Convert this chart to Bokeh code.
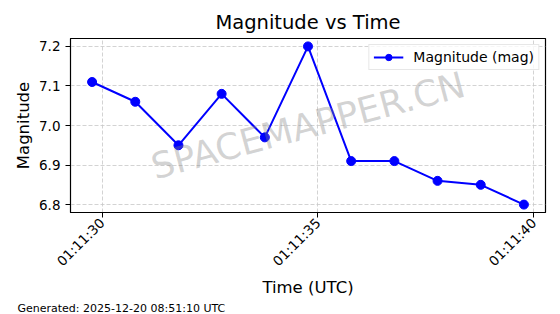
import math
import pandas as pd
from bokeh.plotting import figure
from bokeh.models import (ColumnDataSource, DatetimeTickFormatter, FixedTicker,
                          Range1d, Label, Legend, PrintfTickFormatter, Title)
from bokeh.embed import file_html
from bokeh.resources import INLINE

# ---- data ----
times = ["2025-12-20 01:11:29.770", "2025-12-20 01:11:30.770", "2025-12-20 01:11:31.770",
         "2025-12-20 01:11:32.770", "2025-12-20 01:11:33.770", "2025-12-20 01:11:34.770",
         "2025-12-20 01:11:35.770", "2025-12-20 01:11:36.770", "2025-12-20 01:11:37.770",
         "2025-12-20 01:11:38.770", "2025-12-20 01:11:39.770"]
magnitudes = [7.11, 7.06, 6.95, 7.08, 6.97, 7.20, 6.91, 6.91, 6.86, 6.85, 6.80]
x_tick_times = ["2025-12-20 01:11:30", "2025-12-20 01:11:35", "2025-12-20 01:11:40"]
y_ticks = [6.8, 6.9, 7.0, 7.1, 7.2]
title_text = "Magnitude vs Time"
x_label = "Time (UTC)"
y_label = "Magnitude"
legend_text = "Magnitude (mag)"
footer_text = "Generated: 2025-12-20 08:51:10 UTC"
watermark_text = "SPACEMAPPER.CN"

FONT = "DejaVu Sans"

def to_ms(s):
    return (pd.Timestamp(s) - pd.Timestamp("1970-01-01")) / pd.Timedelta(milliseconds=1)

xs = [to_ms(t) for t in times]
src = ColumnDataSource(dict(t=xs, m=magnitudes))

xspan = max(xs) - min(xs)
yspan = max(magnitudes) - min(magnitudes)
x_range = Range1d(min(xs) - 0.05 * xspan, max(xs) + 0.05 * xspan)
y_range = Range1d(min(magnitudes) - 0.05 * yspan, max(magnitudes) + 0.05 * yspan)

p = figure(width=560, height=314, output_backend="svg", toolbar_location=None,
           x_range=x_range, y_range=y_range,
           min_border_left=70, min_border_right=15, min_border_top=38, min_border_bottom=102)
p.background_fill_color = "white"
p.border_fill_color = "white"
p.outline_line_color = "black"
p.outline_line_width = 1.2

p.title.text = title_text
p.title.align = "center"
p.title.text_font = FONT
p.title.text_font_size = "19.5px"
p.title.text_font_style = "normal"
p.title.text_color = "black"

ln = p.line("t", "m", source=src, color="#0000ff", line_width=2)
sc = p.scatter("t", "m", source=src, size=9, color="#0000ff", marker="circle")

p.xaxis.ticker = FixedTicker(ticks=[to_ms(t) for t in x_tick_times])
fmt = "%H:%M:%S"
p.xaxis.formatter = DatetimeTickFormatter(milliseconds=fmt, seconds=fmt, minsec=fmt,
                                          minutes=fmt, hourmin=fmt, hours=fmt, days=fmt,
                                          context=None)
p.xaxis.major_label_orientation = math.pi / 4
p.yaxis.ticker = FixedTicker(ticks=y_ticks)
p.yaxis.formatter = PrintfTickFormatter(format="%.1f")

for ax in (p.xaxis, p.yaxis):
    ax.major_label_text_font = FONT
    ax.major_label_text_font_size = "13.5px"
    ax.major_label_text_color = "black"
    ax.axis_label_text_font = FONT
    ax.axis_label_text_font_size = "16.5px"
    ax.axis_label_text_font_style = "normal"
    ax.axis_label_text_color = "black"
    ax.axis_line_color = "black"
    ax.major_tick_line_color = "black"
    ax.major_tick_out = 5
    ax.major_tick_in = 0
    ax.minor_tick_line_color = None
p.xaxis.axis_label = x_label
p.yaxis.axis_label = y_label
p.xaxis.axis_label_standoff = 0
p.xaxis.major_label_standoff = 3
p.yaxis.axis_label_standoff = 3

for g in (p.xgrid, p.ygrid):
    g.grid_line_color = "#c8c8c8"
    g.grid_line_dash = "4 2"
    g.grid_line_width = 0.8

legend = Legend(items=[(legend_text, [ln, sc])], location="top_right")
legend.label_text_font = FONT
legend.label_text_font_size = "14px"
legend.label_text_color = "black"
legend.border_line_color = "#d0d0d0"
legend.border_line_width = 1
legend.background_fill_alpha = 0.8
legend.glyph_width = 30
legend.glyph_height = 16
legend.label_height = 16
legend.padding = 4
legend.spacing = 0
legend.margin = 6
legend.label_standoff = 10
p.add_layout(legend)

wm = Label(x=(x_range.start + x_range.end) / 2, y=(y_range.start + y_range.end) / 2,
           text=watermark_text, text_align="center", text_baseline="middle",
           angle=15, angle_units="deg", text_font=FONT, text_font_size="36px",
           text_color="gray", text_alpha=0.35)
p.add_layout(wm)

ft = Title(text=footer_text, align="left", offset=-53, text_font=FONT,
           text_font_size="11px", text_font_style="normal", text_color="black",
           standoff=0)
p.add_layout(ft, "below")

open("out.html", "w").write(file_html(p, INLINE))
